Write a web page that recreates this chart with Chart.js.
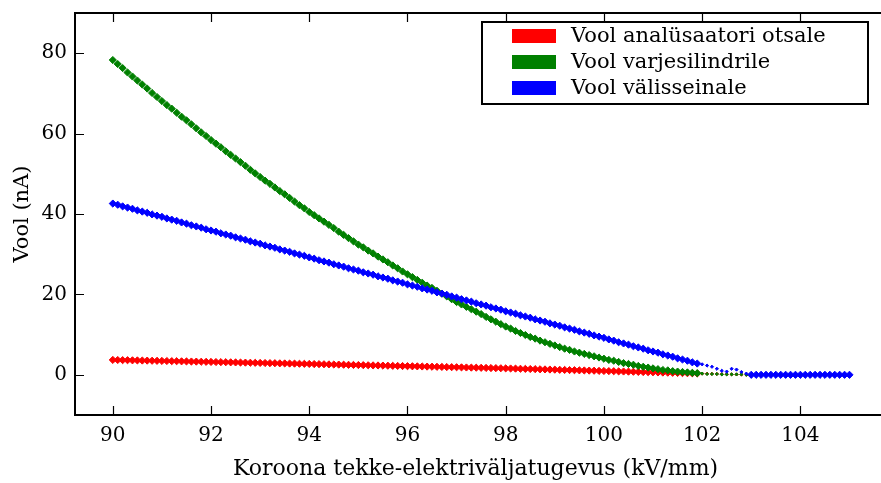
<!DOCTYPE html>
<html>
<head>
<meta charset="utf-8">
<script src="https://cdn.jsdelivr.net/npm/chart.js@4.4.1/dist/chart.umd.min.js"></script>
<style>
  html, body { margin: 0; padding: 0; background: #fff; overflow: hidden; }
  #wrap { position: absolute; left: 0; top: 0; width: 881px; height: 483px; }
</style>
</head>
<body>
<div id="wrap"><canvas id="chart"></canvas></div>
<script>
// Field strength (kV/mm), one sample every 0.1
const fieldStrength = [
  90.0, 90.1, 90.2, 90.3, 90.4, 90.5, 90.6, 90.7, 90.8, 90.9,
  91.0, 91.1, 91.2, 91.3, 91.4, 91.5, 91.6, 91.7, 91.8, 91.9,
  92.0, 92.1, 92.2, 92.3, 92.4, 92.5, 92.6, 92.7, 92.8, 92.9,
  93.0, 93.1, 93.2, 93.3, 93.4, 93.5, 93.6, 93.7, 93.8, 93.9,
  94.0, 94.1, 94.2, 94.3, 94.4, 94.5, 94.6, 94.7, 94.8, 94.9,
  95.0, 95.1, 95.2, 95.3, 95.4, 95.5, 95.6, 95.7, 95.8, 95.9,
  96.0, 96.1, 96.2, 96.3, 96.4, 96.5, 96.6, 96.7, 96.8, 96.9,
  97.0, 97.1, 97.2, 97.3, 97.4, 97.5, 97.6, 97.7, 97.8, 97.9,
  98.0, 98.1, 98.2, 98.3, 98.4, 98.5, 98.6, 98.7, 98.8, 98.9,
  99.0, 99.1, 99.2, 99.3, 99.4, 99.5, 99.6, 99.7, 99.8, 99.9,
  100.0, 100.1, 100.2, 100.3, 100.4, 100.5, 100.6, 100.7, 100.8, 100.9,
  101.0, 101.1, 101.2, 101.3, 101.4, 101.5, 101.6, 101.7, 101.8, 101.9,
  102.0, 102.1, 102.2, 102.3, 102.4, 102.5, 102.6, 102.7, 102.8, 102.9,
  103.0, 103.1, 103.2, 103.3, 103.4, 103.5, 103.6, 103.7, 103.8, 103.9,
  104.0, 104.1, 104.2, 104.3, 104.4, 104.5, 104.6, 104.7, 104.8, 104.9,
  105.0
];

// Vool analüsaatori otsale (nA)
const currentTip = [
  3.70, 3.68, 3.65, 3.63, 3.60, 3.58, 3.55, 3.53, 3.50, 3.48,
  3.45, 3.43, 3.40, 3.38, 3.35, 3.33, 3.30, 3.28, 3.25, 3.23,
  3.20, 3.18, 3.15, 3.13, 3.10, 3.08, 3.05, 3.03, 3.00, 2.98,
  2.95, 2.93, 2.90, 2.88, 2.85, 2.83, 2.80, 2.78, 2.75, 2.73,
  2.70, 2.67, 2.65, 2.62, 2.59, 2.56, 2.54, 2.51, 2.48, 2.45,
  2.43, 2.40, 2.37, 2.34, 2.32, 2.29, 2.26, 2.23, 2.21, 2.18,
  2.15, 2.12, 2.10, 2.07, 2.04, 2.01, 1.99, 1.96, 1.93, 1.90,
  1.88, 1.85, 1.82, 1.79, 1.77, 1.74, 1.71, 1.68, 1.66, 1.63,
  1.60, 1.57, 1.54, 1.50, 1.47, 1.44, 1.41, 1.37, 1.34, 1.31,
  1.28, 1.24, 1.21, 1.18, 1.15, 1.11, 1.08, 1.05, 1.02, 0.98,
  0.95, 0.92, 0.89, 0.85, 0.82, 0.79, 0.76, 0.72, 0.69, 0.66,
  0.63, 0.59, 0.56, 0.53, 0.50, 0.46, 0.43, 0.40, 0.37, 0.33,
  0.30, 0.27, 0.24, 0.21, 0.18, 0.15, 0.12, 0.09, 0.06, 0.03,
  null, null, null, null, null, null, null, null, null, null,
  null, null, null, null, null, null, null, null, null, null,
  null
];

// Vool varjesilindrile (nA)
const currentShield = [
  78.3, 77.3, 76.3, 75.2, 74.2, 73.2, 72.2, 71.2, 70.1, 69.1,
  68.1, 67.1, 66.2, 65.2, 64.2, 63.3, 62.3, 61.3, 60.3, 59.4,
  58.4, 57.5, 56.6, 55.6, 54.7, 53.8, 52.9, 52.0, 51.0, 50.1,
  49.2, 48.3, 47.5, 46.6, 45.7, 44.9, 44.0, 43.1, 42.2, 41.4,
  40.5, 39.7, 38.9, 38.1, 37.3, 36.5, 35.6, 34.8, 34.0, 33.2,
  32.4, 31.7, 30.9, 30.2, 29.4, 28.7, 28.0, 27.2, 26.5, 25.7,
  25.0, 24.3, 23.6, 22.9, 22.2, 21.6, 20.9, 20.2, 19.5, 18.8,
  18.1, 17.5, 16.9, 16.3, 15.7, 15.1, 14.4, 13.8, 13.2, 12.6,
  12.0, 11.5, 10.9, 10.4, 9.9, 9.4, 9.0, 8.5, 8.1, 7.7,
  7.3, 6.9, 6.5, 6.2, 5.8, 5.5, 5.2, 4.9, 4.6, 4.3,
  4.0, 3.7, 3.5, 3.2, 2.9, 2.7, 2.5, 2.2, 2.0, 1.8,
  1.6, 1.4, 1.2, 1.1, 0.9, 0.8, 0.7, 0.6, 0.5, 0.4,
  0.3, 0.2, 0.2, 0.2, 0.1, 0.1, 0.1, 0.1, 0.1, 0.0,
  null, null, null, null, null, null, null, null, null, null,
  null, null, null, null, null, null, null, null, null, null,
  null
];

// Vool välisseinale (nA)
const currentWall = [
  42.6, 42.3, 41.9, 41.6, 41.3, 40.9, 40.6, 40.3, 39.9, 39.6,
  39.3, 38.9, 38.6, 38.3, 37.9, 37.6, 37.2, 36.9, 36.6, 36.2,
  35.9, 35.6, 35.2, 34.9, 34.6, 34.2, 33.9, 33.6, 33.2, 32.9,
  32.6, 32.2, 31.9, 31.6, 31.2, 30.9, 30.6, 30.2, 29.9, 29.6,
  29.2, 28.9, 28.5, 28.2, 27.9, 27.5, 27.2, 26.9, 26.5, 26.2,
  25.9, 25.5, 25.2, 24.9, 24.5, 24.2, 23.9, 23.5, 23.2, 22.9,
  22.5, 22.2, 21.9, 21.5, 21.2, 20.9, 20.5, 20.2, 19.9, 19.5,
  19.2, 18.8, 18.5, 18.2, 17.8, 17.5, 17.2, 16.8, 16.5, 16.2,
  15.8, 15.5, 15.2, 14.8, 14.5, 14.2, 13.8, 13.5, 13.2, 12.8,
  12.5, 12.2, 11.8, 11.5, 11.2, 10.8, 10.5, 10.2, 9.8, 9.5,
  9.2, 8.8, 8.5, 8.1, 7.8, 7.5, 7.1, 6.8, 6.5, 6.1,
  5.8, 5.5, 5.1, 4.8, 4.5, 4.1, 3.8, 3.5, 3.1, 2.8,
  2.6, 2.3, 2.0, 1.5, 1.0, 0.8, 1.5, 1.3, 0.7, 0.3,
  0.0, 0.0, 0.0, 0.0, 0.0, 0.0, 0.0, 0.0, 0.0, 0.0,
  0.0, 0.0, 0.0, 0.0, 0.0, 0.0, 0.0, 0.0, 0.0, 0.0,
  0.0
];

const xTickValues = [90, 92, 94, 96, 98, 100, 102, 104];
const yTickValues = [0, 20, 40, 60, 80];
const seriesLabels = ['Vool analüsaatori otsale', 'Vool varjesilindrile', 'Vool välisseinale'];
const seriesColors = ['#ff0000', '#008000', '#0000ff'];

const FONT = 'DejaVu Serif';

const toPoints = values => fieldStrength.map((x, i) => ({ x: x, y: values[i] }));

// markers shrink in the 102..103 stretch, as in the original plot
const markerRadius = ctx => {
  const x = ctx.raw ? ctx.raw.x : 0;
  return (x > 101.95 && x < 102.95) ? 1.6 : 3.6;
};

// drop the half-label padding Chart.js reserves at the axis ends
const noEndPadding = s => {
  s.paddingTop = 0;
  s.paddingBottom = 0;
  s.paddingLeft = 0;
  s.paddingRight = 0;
};

/**
 * Frame round the axes with inward ticks; the right edge of the
 * original box lies past the edge of the picture, so it is not drawn
 */
const framePlugin = {
  id: 'frame',
  afterDatasetsDraw(chart) {
    const { ctx, chartArea: a, scales: { x, y } } = chart;
    const len = 9;
    const far = chart.width + 10;
    ctx.save();
    ctx.strokeStyle = '#000';
    ctx.lineWidth = 1.2;
    ctx.beginPath();
    xTickValues.forEach(v => {
      const px = Math.round(x.getPixelForValue(v)) + 0.5;
      ctx.moveTo(px, a.bottom); ctx.lineTo(px, a.bottom - len);
      ctx.moveTo(px, a.top); ctx.lineTo(px, a.top + len);
    });
    yTickValues.forEach(v => {
      const py = Math.round(y.getPixelForValue(v)) + 0.5;
      ctx.moveTo(a.left, py); ctx.lineTo(a.left + len, py);
    });
    ctx.stroke();
    ctx.lineWidth = 2;
    ctx.beginPath();
    ctx.moveTo(far, a.top);
    ctx.lineTo(a.left, a.top);
    ctx.lineTo(a.left, a.bottom);
    ctx.lineTo(far, a.bottom);
    ctx.stroke();
    ctx.restore();
  }
};

/**
 * Legend box in the upper right corner of the axes
 */
const legendPlugin = {
  id: 'boxLegend',
  afterDraw(chart) {
    const { ctx, chartArea: a } = chart;
    const w = 386, h = 82;
    const left = a.right - 8 - w;
    const top = a.top + 9;
    ctx.save();
    ctx.fillStyle = '#fff';
    ctx.fillRect(left, top, w, h);
    ctx.lineWidth = 2;
    ctx.strokeStyle = '#000';
    ctx.strokeRect(left, top, w, h);
    ctx.font = `21px "${FONT}"`;
    ctx.textBaseline = 'middle';
    chart.data.datasets.forEach((ds, i) => {
      const cy = top + 14 + i * 26;
      ctx.fillStyle = ds.backgroundColor;
      ctx.fillRect(left + 30, cy - 7, 44, 14);
      ctx.fillStyle = '#000';
      ctx.fillText(ds.label, left + 89, cy + 1);
    });
    ctx.restore();
  }
};

const makeDataset = (values, i, order) => ({
  label: seriesLabels[i],
  data: toPoints(values),
  showLine: false,
  backgroundColor: seriesColors[i],
  borderColor: seriesColors[i],
  pointStyle: 'rectRot',
  pointRadius: markerRadius,
  pointBorderWidth: 1,
  order: order
});

new Chart(document.getElementById('chart'), {
  type: 'scatter',
  data: {
    datasets: [
      makeDataset(currentTip, 0, 3),
      makeDataset(currentShield, 1, 2),
      makeDataset(currentWall, 2, 1)
    ]
  },
  options: {
    responsive: true,
    maintainAspectRatio: false,
    animation: false,
    layout: { padding: { left: 0, top: 13, right: 0, bottom: 0 } },
    plugins: { legend: { display: false }, tooltip: { enabled: false } },
    scales: {
      x: {
        type: 'linear',
        min: 89.23,
        max: 105.54,
        afterBuildTicks: s => { s.ticks = xTickValues.map(v => ({ value: v })); },
        afterFit: s => { s.height = 68; noEndPadding(s); },
        grid: { display: false, drawTicks: false },
        border: { display: false },
        ticks: {
          color: '#000',
          padding: 9,
          maxRotation: 0,
          autoSkip: false,
          font: { family: FONT, size: 20 },
          callback: v => String(v)
        },
        title: {
          display: true,
          text: 'Koroona tekke-elektriväljatugevus (kV/mm)',
          color: '#000',
          font: { family: FONT, size: 22 },
          padding: { top: 0, bottom: 1 }
        }
      },
      y: {
        min: -10,
        max: 90,
        afterBuildTicks: s => { s.ticks = yTickValues.map(v => ({ value: v })); },
        afterFit: s => { s.width = 75; noEndPadding(s); },
        grid: { display: false, drawTicks: false },
        border: { display: false },
        ticks: {
          color: '#000',
          padding: 8,
          font: { family: FONT, size: 20 },
          callback: v => String(v)
        },
        title: {
          display: true,
          text: 'Vool (nA)',
          color: '#000',
          font: { family: FONT, size: 21 },
          padding: { top: 10, bottom: 0 }
        }
      }
    }
  },
  plugins: [framePlugin, legendPlugin]
});
</script>
</body>
</html>
